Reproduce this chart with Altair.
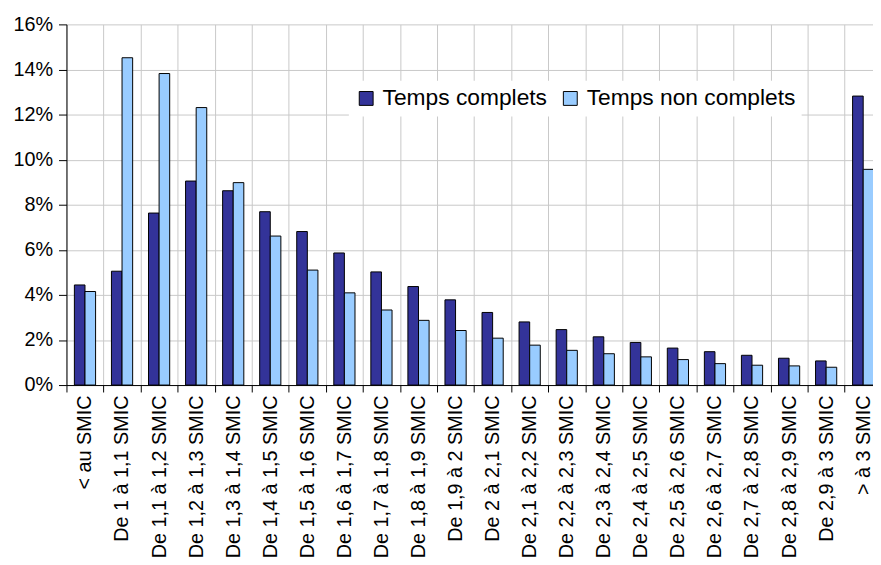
import altair as alt
import pandas as pd

categories = ["< au SMIC", "De 1 à 1,1 SMIC", "De 1,1 à 1,2 SMIC", "De 1,2 à 1,3 SMIC",
              "De 1,3 à 1,4 SMIC", "De 1,4 à 1,5 SMIC", "De 1,5 à 1,6 SMIC", "De 1,6 à 1,7 SMIC",
              "De 1,7 à 1,8 SMIC", "De 1,8 à 1,9 SMIC", "De 1,9 à 2 SMIC", "De 2 à 2,1 SMIC",
              "De 2,1 à 2,2 SMIC", "De 2,2 à 2,3 SMIC", "De 2,3 à 2,4 SMIC", "De 2,4 à 2,5 SMIC",
              "De 2,5 à 2,6 SMIC", "De 2,6 à 2,7 SMIC", "De 2,7 à 2,8 SMIC", "De 2,8 à 2,9 SMIC",
              "De 2,9 à 3 SMIC", "> à 3 SMIC"]
series = ["Temps complets", "Temps non complets"]
complets = [4.44, 5.05, 7.63, 9.05, 8.62, 7.69, 6.81, 5.86, 5.02, 4.37, 3.78, 3.22,
            2.80, 2.46, 2.14, 1.89, 1.64, 1.48, 1.32, 1.19, 1.07, 12.82]
non_complets = [4.15, 14.52, 13.82, 12.31, 8.98, 6.61, 5.10, 4.09, 3.33, 2.87, 2.42, 2.08,
                1.77, 1.54, 1.39, 1.25, 1.13, 0.95, 0.88, 0.85, 0.79, 9.57]
y_ticks = [0, 2, 4, 6, 8, 10, 12, 14, 16]
colors = ["#333399", "#99CCFF"]

rows = []
for c, a, b in zip(categories, complets, non_complets):
    rows.append({"cat": c, "serie": series[0], "val": a})
    rows.append({"cat": c, "serie": series[1], "val": b})
df = pd.DataFrame(rows)

FONT = "Liberation Sans"

chart = alt.Chart(df).mark_bar(stroke="black", strokeWidth=1).encode(
    x=alt.X("cat:N", sort=categories, title=None,
            scale=alt.Scale(range=[0, 822.8], paddingInner=0, paddingOuter=0),
            axis=alt.Axis(labelAngle=-90, labelFontSize=20, labelFont=FONT, labelColor="black",
                          labelPadding=3, labelLimit=300, labelOverlap=False,
                          tickBand="extent", tickSize=7, tickColor="black",
                          domainColor="black", grid=True, gridColor="#C8C8C8")),
    xOffset=alt.XOffset("serie:N", sort=series,
                        scale=alt.Scale(paddingInner=0, paddingOuter=0.748)),
    y=alt.Y("val:Q", title=None,
            scale=alt.Scale(domain=[0, 16], nice=False),
            axis=alt.Axis(values=y_ticks, labelExpr="datum.value + '%'", labelFontSize=20,
                          labelFont=FONT, labelColor="black", labelPadding=6,
                          tickSize=8, tickColor="black", domainColor="black",
                          grid=True, gridColor="#C8C8C8")),
    color=alt.Color("serie:N", sort=series,
                    scale=alt.Scale(domain=series, range=colors),
                    legend=alt.Legend(title=None, orient="none", legendX=285, legendY=57,
                                      direction="horizontal", symbolType="square",
                                      symbolSize=196, symbolStrokeColor="black",
                                      symbolStrokeWidth=1, labelFontSize=23, labelFont=FONT,
                                      labelColor="black", labelOffset=5, columnPadding=11,
                                      fillColor="white", padding=6, labelLimit=400)),
).properties(
    width=814, height=364,
    padding={"left": 59, "top": 14, "right": 0, "bottom": 171},
    autosize=alt.AutoSizeParams(type="none"),
).configure_view(stroke="transparent")

chart.save("out.html", embed_options={"renderer": "svg", "actions": False})
